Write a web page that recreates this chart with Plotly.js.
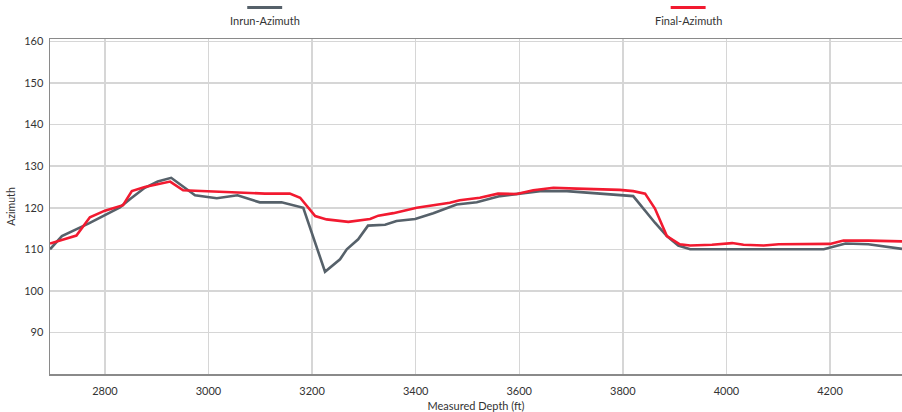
<!DOCTYPE html>
<html>
<head>
<meta charset="utf-8">
<script src="https://cdn.plot.ly/plotly-3.0.1.min.js"></script>
<style>html,body{margin:0;padding:0;background:#fff;}#chart{width:902px;height:412px;}</style>
</head>
<body>
<div id="chart"></div>
<script>
var seriesNames = ["Inrun-Azimuth", "Final-Azimuth"];
var seriesColors = ["#56616a", "#f21a30"];

var inrunDepth = [2694, 2717, 2770, 2800, 2829, 2850, 2877, 2902, 2928, 2974, 3016, 3056, 3099, 3141, 3183, 3225, 3254, 3267, 3289, 3308, 3341, 3363, 3399, 3434, 3479, 3518, 3563, 3601, 3640, 3692, 3762, 3820, 3862, 3885, 3907, 3930, 4000, 4100, 4188, 4230, 4274, 4339];
var inrunAzimuth = [110.0, 113.2, 116.3, 118.2, 120.1, 122.2, 124.8, 126.3, 127.2, 123.0, 122.3, 123.0, 121.3, 121.3, 120.0, 104.6, 107.6, 110.0, 112.4, 115.7, 115.9, 116.8, 117.3, 118.7, 120.8, 121.3, 122.8, 123.4, 124.0, 124.0, 123.4, 122.8, 116.4, 113.2, 110.9, 110.0, 110.0, 110.0, 110.0, 111.4, 111.2, 110.1];

var finalDepth = [2694, 2745, 2771, 2800, 2835, 2852, 2877, 2926, 2951, 3000, 3050, 3109, 3157, 3177, 3206, 3228, 3270, 3312, 3328, 3357, 3402, 3440, 3466, 3485, 3524, 3559, 3595, 3627, 3666, 3711, 3762, 3794, 3820, 3843, 3862, 3885, 3910, 3930, 3972, 4011, 4033, 4072, 4101, 4146, 4200, 4226, 4274, 4339];
var finalAzimuth = [111.4, 113.3, 117.7, 119.3, 120.6, 124.0, 125.0, 126.3, 124.2, 123.9, 123.6, 123.4, 123.4, 122.4, 118.0, 117.2, 116.6, 117.3, 118.1, 118.7, 120.0, 120.8, 121.2, 121.8, 122.4, 123.4, 123.3, 124.2, 124.8, 124.6, 124.4, 124.3, 124.0, 123.4, 119.8, 113.2, 111.2, 110.9, 111.1, 111.5, 111.1, 110.9, 111.2, 111.2, 111.3, 112.1, 112.1, 111.9];

var xTicks = [2800, 3000, 3200, 3400, 3600, 3800, 4000, 4200];
var yTicks = [90, 100, 110, 120, 130, 140, 150, 160];

var FONT = "Lato, 'Open Sans', sans-serif";

var traces = [
  {x: inrunDepth, y: inrunAzimuth, name: seriesNames[0], type: "scatter", mode: "lines",
   line: {color: seriesColors[0], width: 2.6}},
  {x: finalDepth, y: finalAzimuth, name: seriesNames[1], type: "scatter", mode: "lines",
   line: {color: seriesColors[1], width: 2.6}}
];

var legendX = [0.252, 0.749];
var shapes = [];
var annotations = [];
for (var i = 0; i < seriesNames.length; i++) {
  shapes.push({type: "line", xref: "paper", yref: "paper",
    x0: legendX[i] - 0.0205, x1: legendX[i] + 0.0205, y0: 1.094, y1: 1.094,
    line: {color: seriesColors[i], width: 3}});
  annotations.push({xref: "paper", yref: "paper", x: legendX[i], y: 1.055,
    text: seriesNames[i], showarrow: false, xanchor: "center", yanchor: "middle",
    font: {family: FONT, size: 11, color: "#333"}});
}

var layout = {
  width: 902, height: 412,
  margin: {l: 50, r: 0, t: 39, b: 38, pad: 0},
  paper_bgcolor: "#fff", plot_bgcolor: "#fff",
  showlegend: false,
  font: {family: FONT, size: 11, color: "#333"},
  xaxis: {
    range: [2694, 4339], tickvals: xTicks, ticktext: xTicks.map(String),
    showgrid: true, gridcolor: "#d6d6d6", gridwidth: 1.5,
    showline: true, linecolor: "#8a8a8a", linewidth: 1.5, mirror: true,
    zeroline: false, ticks: "outside", ticklen: 6, tickcolor: "rgba(0,0,0,0)",
    tickfont: {family: FONT, size: 11, color: "#333"},
    title: {text: "Measured Depth (ft)", font: {family: FONT, size: 11, color: "#333"}, standoff: 8}
  },
  yaxis: {
    range: [80, 160.6], tickvals: yTicks, ticktext: yTicks.map(String),
    showgrid: true, gridcolor: "#d6d6d6", gridwidth: 1.5,
    showline: true, linecolor: "#8a8a8a", linewidth: 1.5,
    zeroline: false, ticks: "outside", ticklen: 3, tickcolor: "rgba(0,0,0,0)",
    tickfont: {family: FONT, size: 11, color: "#333"},
    title: {text: "Azimuth", font: {family: FONT, size: 10.5, color: "#333"}, standoff: 6}
  },
  shapes: shapes,
  annotations: annotations
};

Plotly.newPlot("chart", traces, layout, {displayModeBar: false, staticPlot: true});
</script>
</body>
</html>
